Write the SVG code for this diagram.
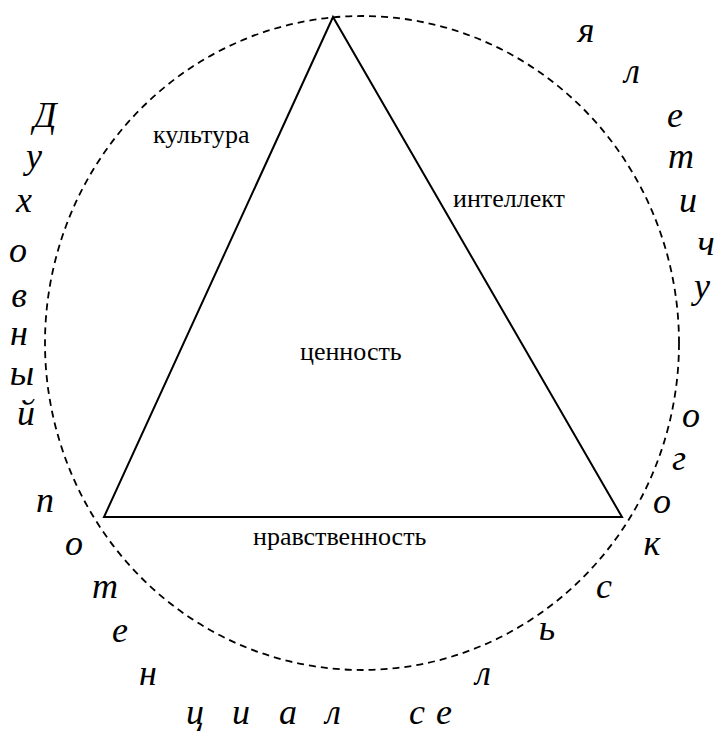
<svg xmlns="http://www.w3.org/2000/svg" width="715" height="733" viewBox="0 0 715 733">
<style>
.lbl{font-family:"Liberation Serif","Times New Roman",serif;font-size:26px;fill:#000}
.it{font-family:"Liberation Serif","Times New Roman",serif;font-size:36px;font-style:italic;fill:#000;text-anchor:middle}
.dash{fill:none;stroke:#000;stroke-width:1.8;stroke-dasharray:7 5}
.tri{fill:none;stroke:#000;stroke-width:2}
</style>
<rect width="715" height="733" fill="#fff"/>
<g id="connectors">
<ellipse class="dash" cx="362" cy="343" rx="317" ry="327"/>
</g>
<g id="triangle">
<polygon class="tri" points="333,17 104,517 622,517"/>
</g>
<g id="label-kultura"><text class="lbl" x="153" y="143">культура</text></g>
<g id="label-intellekt"><text class="lbl" x="453" y="207">интеллект</text></g>
<g id="label-tsennost"><text class="lbl" x="300" y="360">ценность</text></g>
<g id="label-nravstvennost"><text class="lbl" x="253" y="545">нравственность</text></g>
<g id="arc-text">
<text class="it" x="45" y="127">Д</text>
<text class="it" x="34" y="168">у</text>
<text class="it" x="24" y="212">х</text>
<text class="it" x="18" y="262">о</text>
<text class="it" x="19" y="307">в</text>
<text class="it" x="19" y="345">н</text>
<text class="it" x="22" y="385">ы</text>
<text class="it" x="26" y="425">й</text>
<text class="it" x="45" y="512">п</text>
<text class="it" x="74" y="555">о</text>
<text class="it" x="105" y="598">т</text>
<text class="it" x="120" y="642">е</text>
<text class="it" x="148" y="685">н</text>
<text class="it" x="195" y="724">ц</text>
<text class="it" x="241" y="724">и</text>
<text class="it" x="288" y="724">а</text>
<text class="it" x="333" y="724">л</text>
<text class="it" x="417" y="724">с</text>
<text class="it" x="444" y="724">е</text>
<text class="it" x="483" y="685">л</text>
<text class="it" x="547" y="640">ь</text>
<text class="it" x="604" y="598">с</text>
<text class="it" x="652" y="555">к</text>
<text class="it" x="662" y="513">о</text>
<text class="it" x="679" y="470">г</text>
<text class="it" x="691" y="427">о</text>
<text class="it" x="702" y="298">у</text>
<text class="it" x="706" y="255">ч</text>
<text class="it" x="688" y="212">и</text>
<text class="it" x="681" y="168">т</text>
<text class="it" x="675" y="127">е</text>
<text class="it" x="632" y="83">л</text>
<text class="it" x="586" y="42">я</text>
</g>
</svg>
